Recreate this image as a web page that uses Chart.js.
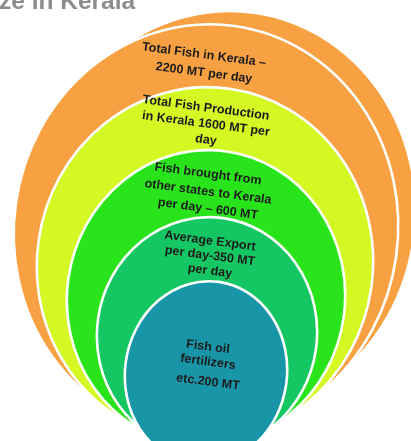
<!DOCTYPE html>
<html><head><meta charset="utf-8">
<script src="https://cdn.jsdelivr.net/npm/chart.js@4"></script>
<style>html,body{margin:0;padding:0;background:#fff;overflow:hidden}#wrap{position:relative;width:411px;height:441px}</style>
</head><body><div id="wrap"><canvas id="c"></canvas></div>
<script>
// ---- data ----
const titleText = 'ze in Kerala';
const layerNames = ['Total Fish in Kerala', 'Total Fish Production in Kerala', 'Fish brought from other states to Kerala', 'Average Export', 'Fish oil fertilizers etc.'];
const layerValues = [2200, 1600, 600, 350, 200];
const layerTextLines = [
  ['Total Fish in Kerala \u2013', layerValues[0] + ' MT per day'],
  ['Total Fish Production', 'in Kerala ' + layerValues[1] + ' MT per', 'day'],
  ['Fish brought from', 'other states to Kerala', 'per day \u2013 ' + layerValues[2] + ' MT'],
  ['Average Export', 'per day-' + layerValues[3] + ' MT', 'per day'],
  ['Fish oil', 'fertilizers', 'etc.' + layerValues[4] + ' MT']
];

// ---- layout (axis units) ----
const shadowGeom = {cx: 226, cy: 214, a: 188, b: 202};
const ellipseCX = [206, 205, 206, 207, 206];
const ellipseCY = [230, 264, 298, 334, 373];
const ellipseA  = [192, 168, 139, 110, 81];
const ellipseB  = [206, 177, 148, 117, 92];
const textX = [204, 206, 208, 210, 208];
const textY = [[55, 73], [108, 124, 140], [174, 192, 209], [241, 256, 271], [347, 362, 382]];

// ---- style ----
const layerColors = ['#F7A142', '#D3F823', '#2AE41B', '#14C762', '#1995A8'];
const tilt = 8 * Math.PI / 180;
const textTilt = 7.5 * Math.PI / 180;

const datasets = layerNames.map((n, i) => ({
  label: n,
  data: [{x: ellipseCX[i], y: ellipseCY[i]}],
  pointRadius: 0,
  backgroundColor: layerColors[i]
}));

const ellipsePlugin = {
  id: 'nestedEllipses',
  beforeDatasetsDraw(chart) {
    const {ctx, scales: {x, y}} = chart;
    const ell = (cx, cy, a, b, fill, stroke) => {
      const px = x.getPixelForValue(cx), py = y.getPixelForValue(cy);
      const rx = Math.abs(x.getPixelForValue(cx + a) - px);
      const ry = Math.abs(y.getPixelForValue(cy + b) - py);
      ctx.beginPath();
      ctx.ellipse(px, py, rx, ry, tilt, 0, Math.PI * 2);
      ctx.fillStyle = fill; ctx.fill();
      if (stroke) { ctx.lineWidth = 2.6; ctx.strokeStyle = '#ffffff'; ctx.stroke(); }
    };
    ctx.save();
    ell(shadowGeom.cx, shadowGeom.cy, shadowGeom.a, shadowGeom.b, layerColors[0], false);
    chart.data.datasets.forEach((ds, i) => {
      const p = ds.data[0];
      ell(p.x, p.y, ellipseA[i], ellipseB[i], ds.backgroundColor, true);
    });
    ctx.restore();
  },
  afterDatasetsDraw(chart) {
    const {ctx, scales: {x, y}} = chart;
    ctx.save();
    ctx.fillStyle = '#1c1c1c';
    ctx.font = 'bold 12.5px "Liberation Sans", Arial, sans-serif';
    ctx.textAlign = 'center';
    ctx.textBaseline = 'middle';
    layerTextLines.forEach((lines, i) => {
      lines.forEach((t, j) => {
        ctx.save();
        ctx.translate(x.getPixelForValue(textX[i]), y.getPixelForValue(textY[i][j]));
        ctx.rotate(textTilt);
        ctx.fillText(t, 0, 0);
        ctx.restore();
      });
    });
    ctx.fillStyle = '#8c8c8c';
    ctx.font = 'bold 24.5px "Liberation Sans", Arial, sans-serif';
    ctx.textAlign = 'left';
    ctx.textBaseline = 'alphabetic';
    ctx.fillText(titleText, x.getPixelForValue(-1), y.getPixelForValue(9));
    ctx.restore();
  }
};

new Chart(document.getElementById('c'), {
  type: 'scatter',
  data: {datasets},
  options: {
    responsive: true,
    maintainAspectRatio: false,
    animation: false,
    layout: {padding: 0},
    plugins: {legend: {display: false}, tooltip: {enabled: false}, title: {display: false}},
    scales: {
      x: {type: 'linear', min: 0, max: 411, display: false},
      y: {type: 'linear', min: 0, max: 441, reverse: true, display: false}
    }
  },
  plugins: [ellipsePlugin]
});
</script></body></html>
